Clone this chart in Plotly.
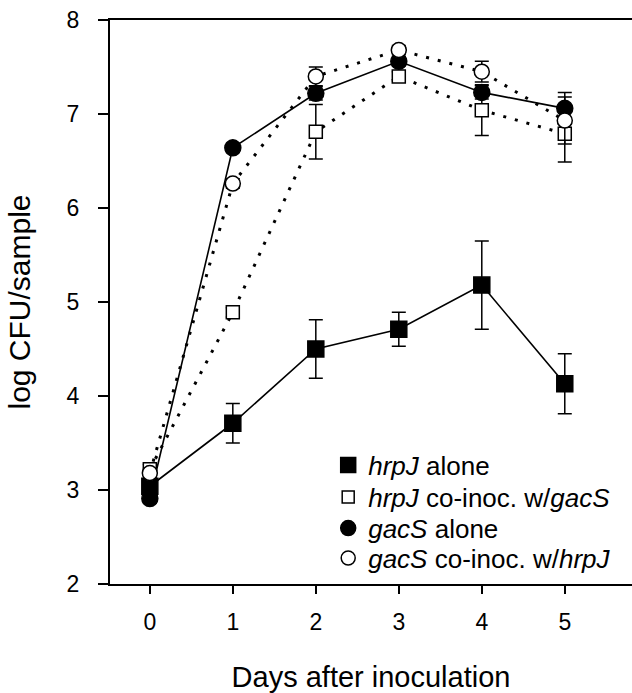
import plotly.graph_objects as go

days = [0, 1, 2, 3, 4, 5]

hrpj_alone = [3.04, 3.71, 4.50, 4.71, 5.18, 4.13]
hrpj_alone_err = [0.05, 0.21, 0.31, 0.18, 0.47, 0.32]

hrpj_coinoc = [3.22, 4.89, 6.81, 7.40, 7.04, 6.79]
hrpj_coinoc_err = [0.05, 0.05, 0.29, 0.05, 0.27, 0.30]

gacs_alone = [2.91, 6.64, 7.22, 7.56, 7.23, 7.06]
gacs_alone_err = [0.05, 0.05, 0.07, 0.05, 0.07, 0.17]

gacs_coinoc = [3.18, 6.26, 7.40, 7.68, 7.45, 6.93]
gacs_coinoc_err = [0.05, 0.05, 0.10, 0.05, 0.11, 0.25]

names = [
    "<i>hrpJ</i> alone",
    "<i>hrpJ</i> co-inoc. w/<i>gacS</i>",
    "<i>gacS</i> alone",
    "<i>gacS</i> co-inoc. w/<i>hrpJ</i>",
]

FONT = "Liberation Sans, Arial, sans-serif"

fig = go.Figure()

series = [
    (hrpj_alone, hrpj_alone_err, "square", "black", 16, 15, "solid"),
    (hrpj_coinoc, hrpj_coinoc_err, "square", "white", 13, 12, "3px,9px"),
    (gacs_alone, gacs_alone_err, "circle", "black", 16, 15, "solid"),
    (gacs_coinoc, gacs_coinoc_err, "circle", "white", 15, 14, "3px,9px"),
]

for (y, err, sym, fill, size, lsize, dash), name in zip(series, names):
    fig.add_trace(go.Scatter(
        x=days, y=y, name=name, mode="lines+markers", showlegend=False,
        line=dict(color="black", width=1.6 if dash == "solid" else 3, dash=dash),
        marker=dict(symbol=sym, size=size, color=fill,
                    line=dict(color="black", width=1.5)),
        error_y=dict(type="data", array=err, visible=True, color="black",
                     thickness=1.5, width=7),
    ))

# legend entries (marker only, as in the original), one legend per row
legend_ids = ["legend", "legend2", "legend3", "legend4"]
for (y, err, sym, fill, size, lsize, dash), name, lid in zip(series, names, legend_ids):
    fig.add_trace(go.Scatter(
        x=[None], y=[None], name=name, mode="markers", showlegend=True,
        legend=lid,
        marker=dict(symbol=sym, size=lsize, color=fill,
                    line=dict(color="black", width=1.5)),
    ))

row_y = [0.211, 0.154, 0.099, 0.046]
legend_common = dict(
    x=0.418, xanchor="left", yanchor="middle",
    bgcolor="rgba(0,0,0,0)", font=dict(size=26, family=FONT, color="black"),
    itemsizing="trace", borderwidth=0,
)

fig.update_layout(
    width=632, height=693,
    margin=dict(l=110, r=0, t=20, b=109),
    paper_bgcolor="white", plot_bgcolor="white",
    font=dict(family=FONT, size=23, color="black"),
    showlegend=True,
    legend=dict(y=row_y[0], **legend_common),
    legend2=dict(y=row_y[1], **legend_common),
    legend3=dict(y=row_y[2], **legend_common),
    legend4=dict(y=row_y[3], **legend_common),
    xaxis=dict(
        range=[-0.48, 5.81], tickvals=days, ticktext=[str(d) for d in days],
        showline=True, linecolor="black", linewidth=2, mirror=True,
        ticks="outside", ticklen=8, tickwidth=1.5, tickcolor="black",
        ticklabelstandoff=8, ticklabeloverflow="allow",
        showgrid=False, zeroline=False, automargin=False,
        title=dict(text="Days after inoculation", font=dict(size=29), standoff=34),
    ),
    yaxis=dict(
        range=[2, 8], tickvals=[2, 3, 4, 5, 6, 7, 8],
        showline=True, linecolor="black", linewidth=2, mirror=False,
        ticks="outside", ticklen=10, tickwidth=1.5, tickcolor="black",
        ticklabelstandoff=14, ticklabeloverflow="allow",
        showgrid=False, zeroline=False, automargin=False,
        title=dict(text="log CFU/sample", font=dict(size=30), standoff=27),
    ),
)

fig.write_html(
    "out.html",
    config={"displayModeBar": False},
    post_script="document.body.style.margin='0';document.body.style.overflow='hidden';",
)
